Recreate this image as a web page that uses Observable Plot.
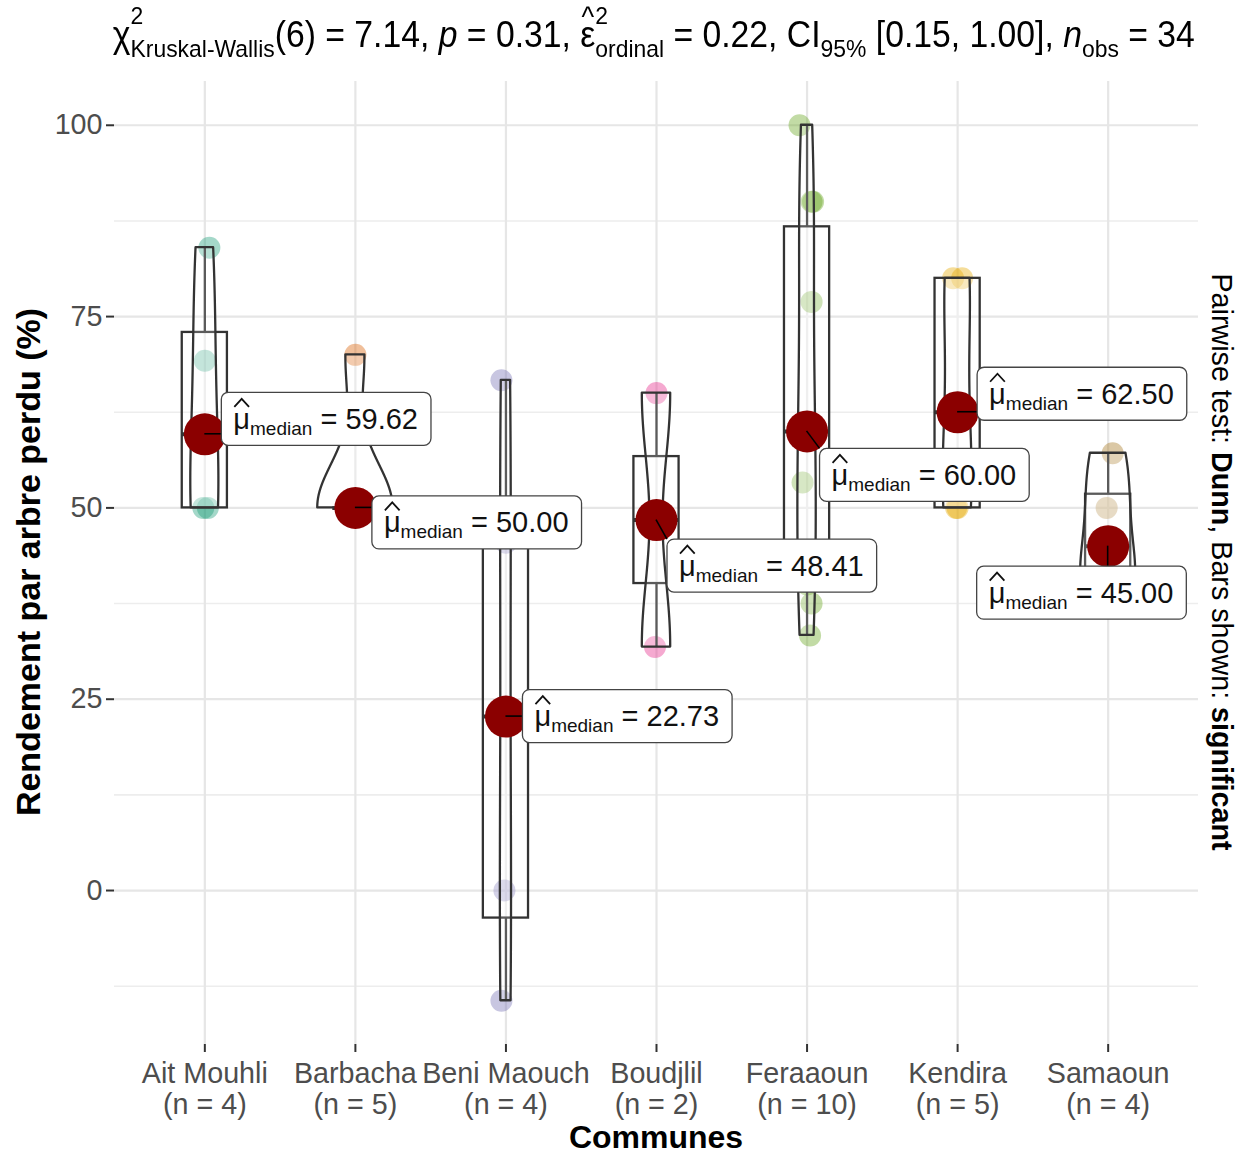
<!DOCTYPE html>
<html>
<head>
<meta charset="utf-8">
<script src="https://cdn.jsdelivr.net/npm/d3@7"></script>
<script src="https://cdn.jsdelivr.net/npm/@observablehq/plot@0.6"></script>
<style>
  body { margin: 0; background: #fff; font-family: "Liberation Sans", Arial, sans-serif; }
  #wrap { position: relative; width: 1252px; height: 1155px; overflow: hidden; background: #fff; }
  #chart { position: absolute; left: 0; top: 0; }
  #title { position: absolute; left: 0; top: 17px; width: 1252px; text-align: center; line-height: 36px; height: 50px; }
  #tinner { display: inline-block; white-space: nowrap; font-size: 36px; color: #000; transform-origin: 50% 50%; position: relative; left: 28px; }
  .stk { display: inline-block; position: relative; font-size: 0.68em; }
  .stk .sb { position: relative; top: 0.42em; }
  .stk .sp { position: absolute; left: 0; top: -0.95em; }
  .hatc { position: relative; display: inline-block; }
  .hatc::after { content: "^"; position: absolute; left: 0.05em; top: -0.62em; font-size: 0.8em; }
  #ytitle { position: absolute; left: 28px; top: 562px; transform: translate(-50%, -50%) rotate(-90deg); font-weight: bold; font-size: 34px; white-space: nowrap; line-height: 1; color: #000; }
  #xtitle { position: absolute; left: 656px; top: 1137px; transform: translate(-50%, -50%); font-weight: bold; font-size: 32px; white-space: nowrap; line-height: 24px; color: #000; }
  #caption { position: absolute; left: 1222px; top: 562px; transform: translate(-50%, -50%) rotate(90deg); font-size: 28.7px; white-space: nowrap; line-height: 1; color: #000; }
</style>
</head>
<body>
<div id="wrap">
  <div id="chart"></div>
  <div id="title"><span id="tinner">χ<span class="stk"><span class="sp">2</span><span class="sb">Kruskal-Wallis</span></span>(6) = 7.14, <i>p</i> = 0.31, <span class="hatc">ε</span><span class="stk"><span class="sp">2</span><span class="sb">ordinal</span></span> = 0.22, CI<span class="stk"><span class="sb">95%</span></span> [0.15, 1.00], <i>n</i><span class="stk"><span class="sb">obs</span></span> = 34</span></div>
  <div id="ytitle">Rendement par arbre perdu (%)</div>
  <div id="xtitle">Communes</div>
  <div id="caption">Pairwise test: <b>Dunn</b>, Bars shown: <b>significant</b></div>
</div>
<script>
// ---------- data ----------
const communes = ["Ait Mouhli", "Barbacha", "Beni Maouch", "Boudjlil", "Feraaoun", "Kendira", "Samaoun"];

const aitMouhli  = [84, 69.24, 50, 50];
const barbacha   = [70, 50, 50, 50, 50];
const beniMaouch = [66.67, 45.46, 0, -14.4];
const boudjlil   = [65, 31.82];
const feraaoun   = [100, 90, 90, 76.92, 60, 60, 53.33, 40, 37.5, 33.33];
const kendira    = [80, 80, 62.5, 50, 50];
const samaoun    = [57.14, 50, 40, 40];

const aitMouhliJitter  = [0.03, 0.0, -0.01, 0.02];
const barbachaJitter   = [0.0, -0.02, 0.01, 0.02, -0.01];
const beniMaouchJitter = [-0.03, 0.0, -0.01, -0.03];
const boudjlilJitter   = [0.0, -0.01];
const feraaounJitter   = [-0.05, 0.03, 0.04, 0.03, 0.0, 0.01, -0.03, 0.0, 0.03, 0.02];
const kendiraJitter    = [-0.03, 0.03, 0.0, -0.01, 0.0];
const samaounJitter    = [0.03, -0.01, 0.0, 0.01];

const yMajor = [0, 25, 50, 75, 100];
const yMinor = [-12.5, 12.5, 37.5, 62.5, 87.5];

// ---------- layout / style ----------
const palette = ["#1B9E77", "#D95F02", "#7570B3", "#E7298A", "#66A61E", "#E6AB02", "#A6761D"];
// label placement (left edge offset, vertical centre offset) in px from the median point
const labelNudge = [[17, -15], [17, 15], [17, 0], [11, 46], [13, 44], [20, -18], [-131, 47]];

const groups = [aitMouhli, barbacha, beniMaouch, boudjlil, feraaoun, kendira, samaoun];
const jitters = [aitMouhliJitter, barbachaJitter, beniMaouchJitter, boudjlilJitter, feraaounJitter, kendiraJitter, samaounJitter];

const points = groups.flatMap((vals, i) => vals.map((v, k) => ({i, v, j: jitters[i][k]})));

const stats = groups.map((vals, i) => {
  const s = vals.slice().sort(d3.ascending);
  const q1 = d3.quantile(s, 0.25), med = d3.quantile(s, 0.5), q3 = d3.quantile(s, 0.75);
  const iqr = q3 - q1;
  const lo = d3.min(s.filter(v => v >= q1 - 1.5 * iqr));
  const hi = d3.max(s.filter(v => v <= q3 + 1.5 * iqr));
  return {i, q1, med, q3, lo, hi, n: s.length};
});

function bwNrd0(x) {
  const s = x.slice().sort(d3.ascending);
  const hi = d3.deviation(s);
  let lo = Math.min(hi, (d3.quantile(s, 0.75) - d3.quantile(s, 0.25)) / 1.34);
  if (!lo) lo = hi || Math.abs(s[0]) || 1;
  return 0.9 * lo * Math.pow(s.length, -0.2);
}

const violinRaw = groups.map((vals, i) => {
  const bw = bwNrd0(vals);
  const [mn, mx] = d3.extent(vals);
  const out = [];
  for (let k = 0; k < 512; k++) {
    const y = mn + (mx - mn) * k / 511;
    const d = d3.mean(vals, v => Math.exp(-0.5 * ((y - v) / bw) ** 2) / (bw * Math.sqrt(2 * Math.PI)));
    out.push({i, y, d});
  }
  return out;
});
const maxD = d3.max(violinRaw.flat(), d => d.d);
const violin = violinRaw.flat().map(d => ({...d, w: d.d / maxD * 0.25}));

// text measuring
const ctx = document.createElement("canvas").getContext("2d");
function measure(t, size) { ctx.font = `${size}px "Liberation Sans"`; return ctx.measureText(t).width; }

function medianLabels(index, scales) {
  const g = d3.create("svg:g").attr("text-anchor", "start");
  stats.forEach((s, k) => {
    const px = scales.x(s.i), py = scales.y(s.med);
    const [lx, ly] = labelNudge[k];
    const txt = s.med.toFixed(2);
    const wMu = measure("μ", 29), wSub = measure("median", 19), wRest = measure(" = " + txt, 29);
    const W = 12 + wMu + wSub + wRest + 13, H = 53;
    const left = px + lx, top = py + ly - H / 2;
    const cx = Math.max(left, Math.min(px, left + W));
    const cy = Math.max(top, Math.min(py, top + H));
    g.append("line").attr("x1", px).attr("y1", py).attr("x2", cx).attr("y2", cy)
      .attr("stroke", "#000").attr("stroke-width", 1.6);
    g.append("rect").attr("x", left).attr("y", top).attr("width", W).attr("height", H)
      .attr("rx", 7).attr("fill", "white").attr("stroke", "#444").attr("stroke-width", 1.3);
    const c = top + H / 2;
    const t = g.append("text").attr("x", left + 12).attr("y", c + 10).attr("text-anchor", "start")
      .attr("font-size", 29).attr("fill", "#111").attr("font-family", "Liberation Sans");
    t.append("tspan").text("μ");
    t.append("tspan").attr("font-size", 19).attr("dy", 6).text("median");
    t.append("tspan").attr("dy", -6).text(" = " + txt);
    const x0 = left + 12;
    g.append("path")
      .attr("d", `M${x0 + 1},${c - 12}L${x0 + wMu / 2},${c - 20}L${x0 + wMu - 1},${c - 12}`)
      .attr("fill", "none").attr("stroke", "#111").attr("stroke-width", 1.8);
  });
  return g.node();
}

const chart = Plot.plot({
  width: 1252,
  height: 1155,
  marginLeft: 114,
  marginRight: 54,
  marginTop: 81,
  marginBottom: 111,
  style: {fontFamily: "Liberation Sans", background: "white", overflow: "visible"},
  x: {type: "linear", domain: [-0.6, 6.6], axis: null},
  y: {domain: [-20.12, 105.72], axis: null},
  marks: [
    Plot.ruleY(yMinor, {stroke: "#EDEDED", strokeWidth: 1.6}),
    Plot.ruleY(yMajor, {stroke: "#E6E6E6", strokeWidth: 2.2}),
    Plot.ruleX(d3.range(communes.length), {stroke: "#E6E6E6", strokeWidth: 2.2}),
    Plot.dot(points, {x: d => d.i + d.j, y: "v", r: 11, fill: d => palette[d.i], fillOpacity: 0.4, stroke: null}),
    Plot.rect(stats, {x1: d => d.i - 0.15, x2: d => d.i + 0.15, y1: "q1", y2: "q3", fill: "white", fillOpacity: 0.2, stroke: "#333", strokeWidth: 2.3}),
    Plot.ruleX(stats, {x: "i", y1: "q3", y2: "hi", stroke: "#333", strokeWidth: 2.3}),
    Plot.ruleX(stats, {x: "i", y1: "lo", y2: "q1", stroke: "#333", strokeWidth: 2.3}),
    Plot.ruleY(stats, {y: "med", x1: d => d.i - 0.15, x2: d => d.i + 0.15, stroke: "#333", strokeWidth: 4}),
    Plot.areaX(violin, {y: "y", x1: d => d.i - d.w, x2: d => d.i + d.w, z: "i", fill: "white", fillOpacity: 0.2, stroke: "#333", strokeWidth: 2.3}),
    Plot.dot(stats, {x: "i", y: "med", r: 21, fill: "#8B0000", stroke: null}),
    medianLabels,
    Plot.axisY({ticks: yMajor, tickSize: 8, tickPadding: 4, fontSize: 28.7, fill: "#4D4D4D", stroke: "#333", strokeWidth: 2, label: null}),
    Plot.axisX({ticks: d3.range(communes.length), tickSize: 8, tickPadding: 8, fontSize: 28.7, lineHeight: 1.1,
      tickFormat: i => `${communes[i]}\n(n = ${groups[i].length})`, fill: "#4D4D4D", stroke: "#333", strokeWidth: 2, label: null})
  ]
});
document.getElementById("chart").appendChild(chart);

// fit the title to the reference width
const tin = document.getElementById("tinner");
const w = tin.getBoundingClientRect().width;
tin.style.transform = `scaleX(${1082 / w})`;
tin.style.left = `${654 - 626}px`;
</script>
</body>
</html>
